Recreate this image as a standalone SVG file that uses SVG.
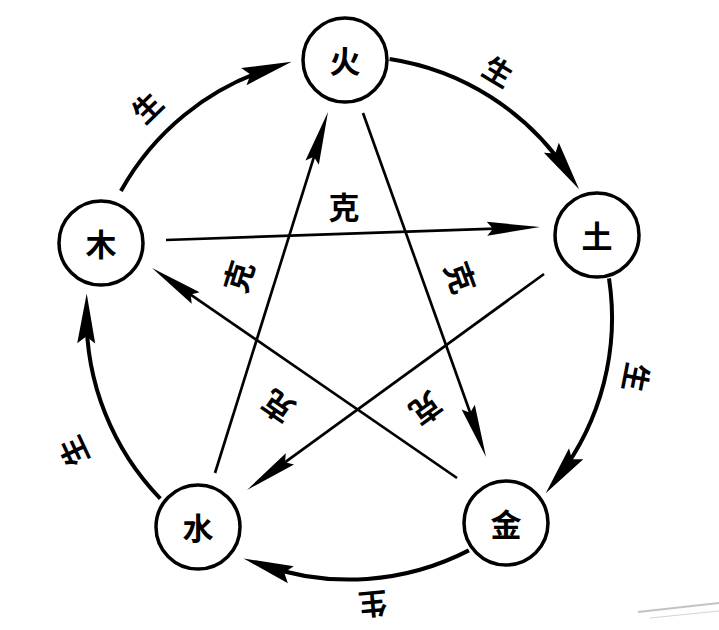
<svg xmlns="http://www.w3.org/2000/svg" width="719" height="630" viewBox="0 0 719 630">
  <style>
    .node circle { fill: #ffffff; stroke: #000000; stroke-width: 3.5; }
    .node text { font-family: "Noto Sans CJK SC", "Noto Sans CJK JP", sans-serif; font-size: 31px; font-weight: 700; fill: #000000; text-anchor: middle; dominant-baseline: central; }
    .sheng { fill: none; stroke: #000000; stroke-width: 4; marker-end: url(#arcHead); }
    .ke { fill: none; stroke: #000000; stroke-width: 2.7; marker-end: url(#lineHead); }
    .lbl { font-family: "Noto Sans CJK SC", "Noto Sans CJK JP", sans-serif; font-weight: 700; fill: #000000; text-anchor: middle; dominant-baseline: central; }
    .lsheng { font-size: 29px; }
    .lke { font-size: 31px; }
  </style>
  <defs>
    <marker id="arcHead" markerUnits="userSpaceOnUse" orient="auto" refX="0" refY="0" markerWidth="60" markerHeight="24" viewBox="-32 -12 60 24" overflow="visible">
      <path d="M20,0 L-30,-9 L-23,0 L-30,9 Z" fill="#000000"/>
    </marker>
    <marker id="lineHead" markerUnits="userSpaceOnUse" orient="auto" refX="0" refY="0" markerWidth="60" markerHeight="20" viewBox="-36 -10 60 20" overflow="visible">
      <path d="M20,0 L-33,-7 L-27,0 L-33,7 Z" fill="#000000"/>
    </marker>
  </defs>
  <rect width="719" height="630" fill="#ffffff"/>

  <g id="connectors">
    <!-- 生 cycle (outer arcs) -->
    <path class="sheng" d="M120.9,191.0 A262,262 0 0 1 272.5,67.7"/>
    <path class="sheng" d="M389.6,59.0 A262,262 0 0 1 568.0,172.6"/>
    <path class="sheng" d="M609.0,278.4 A262,262 0 0 1 557.9,477.5"/>
    <path class="sheng" d="M468.9,550.4 A262,262 0 0 1 262.5,565.0"/>
    <path class="sheng" d="M160.3,498.7 A263,263 0 0 1 86.5,313.4"/>
    <!-- 克 cycle (star lines) -->
    <path class="ke" d="M166,240 L520.0,227.7"/>
    <path class="ke" d="M363,113 L479.3,438.2"/>
    <path class="ke" d="M544,274 L263.2,478.2"/>
    <path class="ke" d="M457,478 L168.5,279.3"/>
    <path class="ke" d="M215,473 L322.0,131.1"/>
  </g>

  <g id="labels">
    <text class="lbl lsheng" transform="translate(146,106) rotate(-44)">生</text>
    <text class="lbl lsheng" transform="translate(499,70) rotate(31)">生</text>
    <text class="lbl lsheng" transform="translate(638,378) rotate(101)">生</text>
    <text class="lbl lsheng" transform="translate(373,606) rotate(175)">生</text>
    <text class="lbl lsheng" transform="translate(72,452) rotate(-115)">生</text>

    <text class="lbl lke" transform="translate(344,205)">克</text>
    <text class="lbl lke" transform="translate(237,276) rotate(-73)">克</text>
    <text class="lbl lke" transform="translate(462,277) rotate(70)">克</text>
    <text class="lbl lke" transform="translate(277,408) rotate(-145)">克</text>
    <text class="lbl lke" transform="translate(427,410) rotate(144)">克</text>
  </g>

  <g id="node-huo" class="node">
    <circle cx="345" cy="60" r="42"/>
    <text x="345" y="59">火</text>
  </g>
  <g id="node-tu" class="node">
    <circle cx="597" cy="235" r="42"/>
    <text x="597" y="234">土</text>
  </g>
  <g id="node-jin" class="node">
    <circle cx="506" cy="523" r="42"/>
    <text x="506" y="522">金</text>
  </g>
  <g id="node-shui" class="node">
    <circle cx="198" cy="527" r="42"/>
    <text x="198" y="526">水</text>
  </g>
  <g id="node-mu" class="node">
    <circle cx="101" cy="243" r="42"/>
    <text x="101" y="242">木</text>
  </g>

  <g id="scan-edge" opacity="0.35">
    <path d="M638,612 L719,603" stroke="#555555" stroke-width="2" fill="none"/>
    <path d="M650,618 L719,611" stroke="#888888" stroke-width="1" fill="none"/>
  </g>
</svg>
